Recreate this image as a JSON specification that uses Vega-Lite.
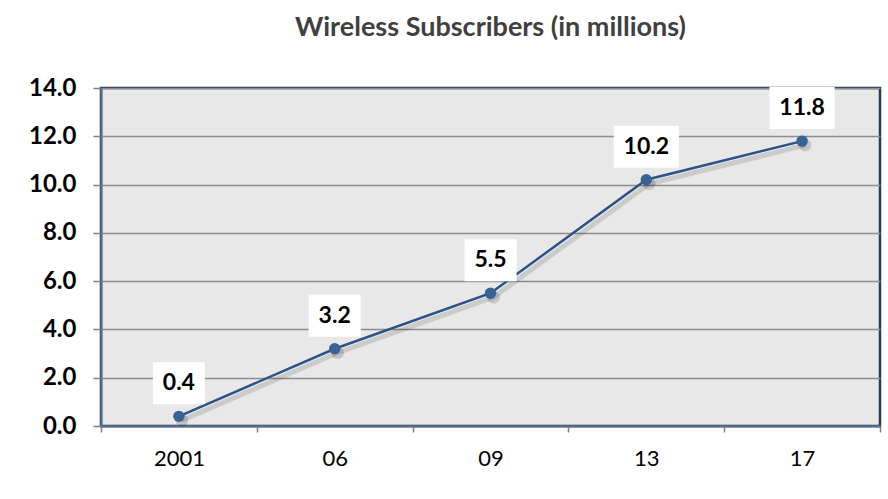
{
  "$schema": "https://vega.github.io/schema/vega-lite/v6.json",
  "autosize": {"type": "none"},
  "width": 779,
  "height": 338,
  "padding": {"left": 101, "top": 88, "right": 8, "bottom": 73},
  "background": "white",
  "config": {
    "font": "Lato",
    "view": {"fill": "#e8e8e8", "stroke": "#1f3a60", "strokeWidth": 2.5}
  },
  "title": {
    "text": "Wireless Subscribers (in millions)",
    "font": "Lato",
    "fontSize": 27,
    "fontWeight": "bold",
    "color": "#404040",
    "anchor": "middle",
    "baseline": "alphabetic",
    "offset": 13
  },
  "data": {
    "values": [
      {"year": "2001", "value": 0.4, "label": "0.4"},
      {"year": "06", "value": 3.2, "label": "3.2"},
      {"year": "09", "value": 5.5, "label": "5.5"},
      {"year": "13", "value": 10.2, "label": "10.2"},
      {"year": "17", "value": 11.8, "label": "11.8"}
    ]
  },
  "encoding": {
    "x": {
      "field": "year",
      "type": "ordinal",
      "sort": null,
      "scale": {"type": "band", "paddingInner": 0, "paddingOuter": 0},
      "axis": {
        "title": null,
        "labelAngle": 0,
        "labelFont": "Lato",
        "labelFontSize": 22,
        "labelColor": "#000000",
        "labelPadding": 16,
        "tickBand": "extent",
        "tickColor": "#808080",
        "tickWidth": 1.5,
        "tickSize": 6,
        "domainColor": "#5f7390",
        "domainWidth": 2,
        "grid": false
      }
    },
    "y": {
      "field": "value",
      "type": "quantitative",
      "scale": {"domain": [0, 14], "nice": false},
      "axis": {
        "title": null,
        "values": [0, 2, 4, 6, 8, 10, 12, 14],
        "format": ".1f",
        "labelFont": "Lato",
        "labelFontSize": 24,
        "labelFontWeight": "bold",
        "labelColor": "#000000",
        "labelPadding": 17,
        "tickColor": "#808080",
        "tickWidth": 1.5,
        "tickSize": 8,
        "domainColor": "#5f7390",
        "domainWidth": 2,
        "grid": true,
        "gridColor": "#8c8c8c",
        "gridWidth": 1.5
      }
    }
  },
  "layer": [
    {
      "mark": {"type": "line", "color": "#000000", "opacity": 0.12, "strokeWidth": 5, "xOffset": 3, "yOffset": 4}
    },
    {
      "mark": {"type": "point", "filled": true, "color": "#000000", "opacity": 0.15, "size": 160, "xOffset": 3, "yOffset": 4}
    },
    {
      "mark": {"type": "line", "color": "#2b5388", "strokeWidth": 2.5}
    },
    {
      "mark": {"type": "point", "filled": true, "color": "#3a6195", "opacity": 1, "size": 130}
    },
    {
      "mark": {"type": "point", "filled": true, "color": "white", "opacity": 1, "yOffset": -33, "size": 1764},
      "encoding": {
        "shape": {
          "condition": {"test": "datum.value >= 10", "value": "M-1.55,-1H1.55V1H-1.55Z"},
          "value": "M-1.24,-1H1.24V1H-1.24Z"
        }
      }
    },
    {
      "mark": {"type": "text", "font": "Lato", "fontSize": 23, "fontWeight": "bold", "color": "#000000", "baseline": "middle", "yOffset": -33},
      "encoding": {"text": {"field": "label"}}
    }
  ]
}
